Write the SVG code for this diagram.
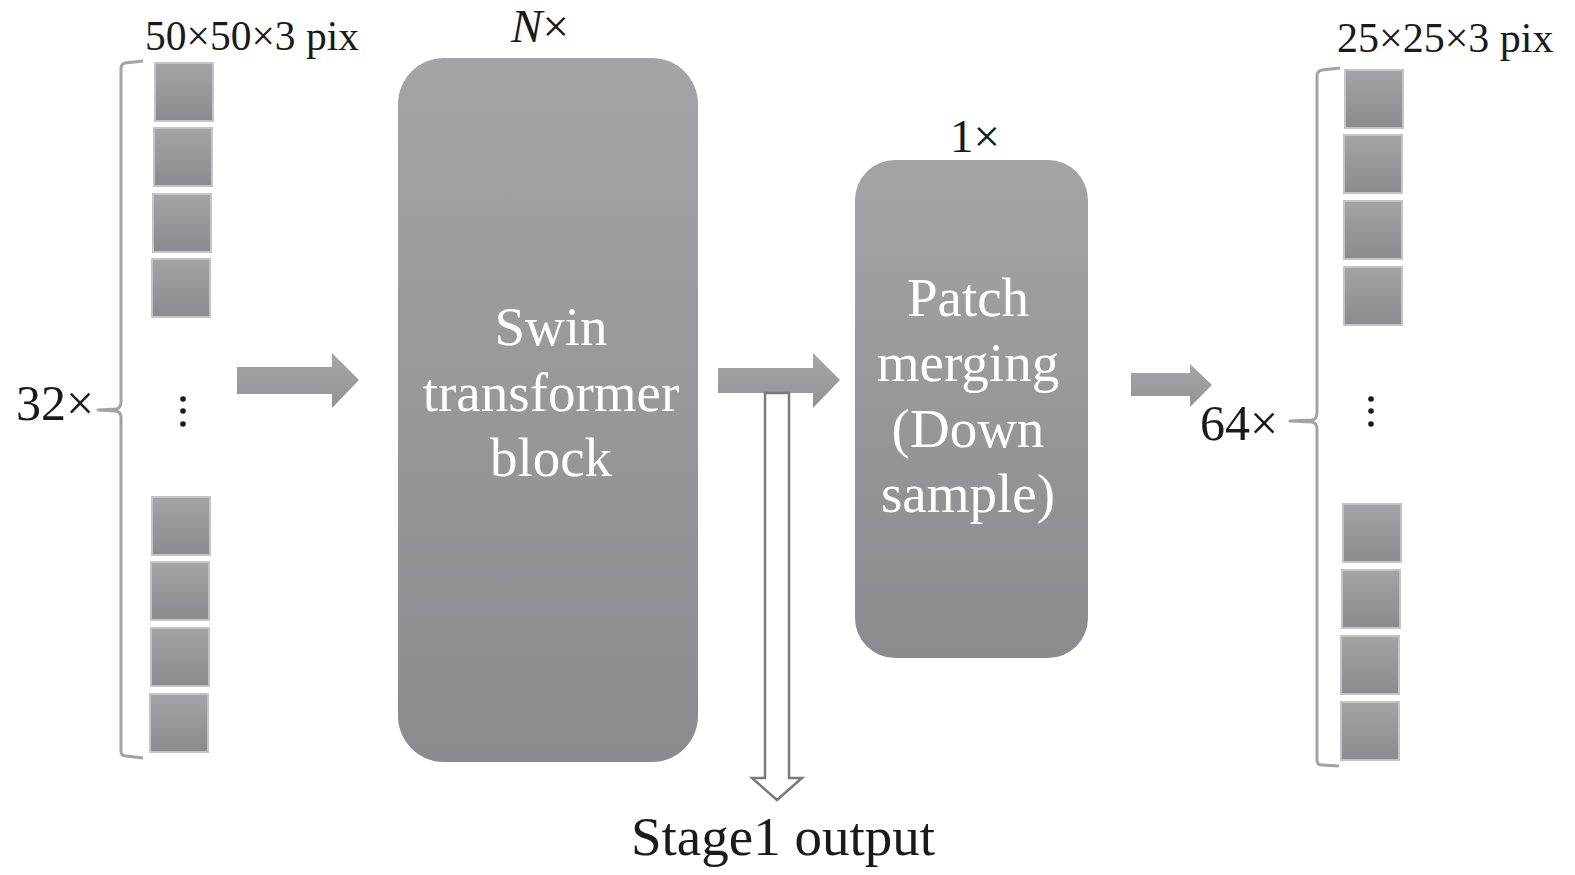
<svg xmlns="http://www.w3.org/2000/svg" width="1575" height="875" viewBox="0 0 1575 875">
<defs>
<linearGradient id="g" x1="0" y1="0" x2="0" y2="1"><stop offset="0" stop-color="#a4a4a6"/><stop offset="1" stop-color="#8b8b8f"/></linearGradient>
<linearGradient id="ga" x1="0" y1="0" x2="0" y2="1"><stop offset="0" stop-color="#a6a6a8"/><stop offset="1" stop-color="#939397"/></linearGradient>
<style>
.sq{fill:url(#g);stroke:#c4c4c6;stroke-width:2}
.box{fill:url(#g)}
.t{font-family:"Liberation Serif","Times New Roman",serif;fill:#1a1a1a}
.w{font-family:"Liberation Serif","Times New Roman",serif;fill:#ffffff;font-size:55px;text-anchor:middle}
.br{fill:none;stroke:#a3a3a5;stroke-width:3;stroke-linejoin:round}
.arr{fill:url(#ga)}
.dot{fill:#1a1a1a}
</style>
</defs>
<g id="input-patches">
<text class="t" x="145" y="50" font-size="41.5">50×50×3 pix</text>
<path class="br" d="M143,61 L125,63 Q121,64 121,69 L121,402 Q121,408 116,409 L98,410 L116,411 Q121,412 121,418 L121,751 Q121,756 126,756 L143,758"/>
<text class="t" x="16" y="420" font-size="50">32×</text>
<rect class="sq" x="155" y="63" width="58" height="58"/>
<rect class="sq" x="154" y="128" width="58" height="58"/>
<rect class="sq" x="153" y="194" width="58" height="58"/>
<rect class="sq" x="152" y="259" width="58" height="58"/>
<circle class="dot" cx="183" cy="399" r="2.8"/><circle class="dot" cx="183" cy="411" r="2.8"/><circle class="dot" cx="183" cy="424" r="2.8"/>
<rect class="sq" x="152" y="497" width="58" height="58"/>
<rect class="sq" x="151" y="562" width="58" height="58"/>
<rect class="sq" x="151" y="628" width="58" height="58"/>
<rect class="sq" x="150" y="694" width="58" height="58"/>
</g>
<g id="swin-block">
<text class="t" x="540" y="42" font-size="47" text-anchor="middle"><tspan font-style="italic">N</tspan>×</text>
<rect class="box" x="398" y="58" width="300" height="704" rx="46"/>
<text class="w" x="551" y="345">Swin</text>
<text class="w" x="551" y="411">transformer</text>
<text class="w" x="551" y="476">block</text>
</g>
<g id="patch-merging">
<text class="t" x="975" y="152" font-size="47" text-anchor="middle">1×</text>
<rect class="box" x="855" y="160" width="233" height="498" rx="40"/>
<text class="w" x="968" y="316">Patch</text>
<text class="w" x="968" y="381">merging</text>
<text class="w" x="968" y="447">(Down</text>
<text class="w" x="968" y="512">sample)</text>
</g>
<g id="output-patches">
<text class="t" x="1337" y="52" font-size="42">25×25×3 pix</text>
<path class="br" d="M1340,68 L1322,70 Q1317,71 1317,76 L1317,413 Q1317,419 1312,420 L1290,421 L1312,422 Q1317,423 1317,429 L1317,760 Q1317,765 1322,765 L1339,766"/>
<text class="t" x="1200" y="440" font-size="50">64×</text>
<rect class="sq" x="1345" y="70" width="58" height="58"/>
<rect class="sq" x="1344" y="135" width="58" height="58"/>
<rect class="sq" x="1344" y="201" width="58" height="58"/>
<rect class="sq" x="1344" y="267" width="58" height="58"/>
<circle class="dot" cx="1371" cy="399" r="2.8"/><circle class="dot" cx="1371" cy="411" r="2.8"/><circle class="dot" cx="1371" cy="424" r="2.8"/>
<rect class="sq" x="1343" y="504" width="58" height="58"/>
<rect class="sq" x="1342" y="570" width="58" height="58"/>
<rect class="sq" x="1341" y="636" width="58" height="58"/>
<rect class="sq" x="1341" y="702" width="58" height="58"/>
</g>
<g id="stage1-output">
<text class="t" x="783" y="855" font-size="55" text-anchor="middle">Stage1 output</text>
</g>
<g id="connectors">
<path class="arr" d="M237,367 L332,367 L332,353 L359,380 L332,408 L332,394 L237,394 Z"/>
<path class="arr" d="M718,368 L813,368 L813,353 L840,380 L813,408 L813,393 L718,393 Z"/>
<path class="arr" d="M1131,373 L1190,373 L1190,364 L1212,385 L1190,407 L1190,396 L1131,396 Z"/>
<path d="M765,393 L789,393 L789,778 L802,778 L777,800 L752,778 L765,778 Z" fill="#ffffff" stroke="#7a7a7e" stroke-width="2.5" stroke-linejoin="miter"/>
</g>
</svg>
